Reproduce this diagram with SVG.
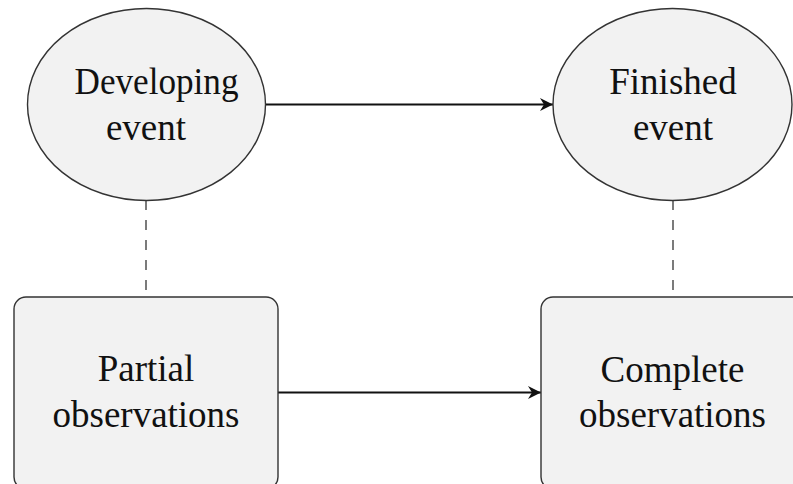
<svg xmlns="http://www.w3.org/2000/svg" width="793" height="484" viewBox="0 0 793 484">
<style>
.bg{fill:#ffffff}
.node{fill:#f2f2f2;stroke:#333333;stroke-width:1.4}
.lbl{font-family:"Liberation Serif","Times New Roman",serif;font-size:37px;fill:#111111;text-anchor:middle}
.edge{stroke:#111111;stroke-width:2;fill:none}
.dash{stroke:#444444;stroke-width:1.4;stroke-dasharray:10 10;fill:none}
</style>
<defs>
<marker id="arr" markerUnits="userSpaceOnUse" markerWidth="16" markerHeight="14" refX="14" refY="7" orient="auto">
<path d="M14,7 L1,0.5 L5,7 L1,13.5 Z" fill="#111111"/>
</marker>
</defs>
<rect class="bg" x="0" y="0" width="793" height="484"/>
<g id="connectors">
<line class="dash" x1="146" y1="200" x2="146" y2="296"/>
<line class="dash" x1="673" y1="200" x2="673" y2="296"/>
<line class="edge" x1="265" y1="104.5" x2="553" y2="104.5" marker-end="url(#arr)"/>
<line class="edge" x1="278" y1="392.5" x2="541" y2="392.5" marker-end="url(#arr)"/>
</g>
<g id="developing">
<ellipse class="node" cx="146.5" cy="104.5" rx="119" ry="96"/>
<text class="lbl" x="156.5" y="94" textLength="164" lengthAdjust="spacingAndGlyphs">Developing</text>
<text class="lbl" x="146" y="140">event</text>
</g>
<g id="finished">
<ellipse class="node" cx="672.5" cy="104.5" rx="119.5" ry="96"/>
<text class="lbl" x="673" y="94">Finished</text>
<text class="lbl" x="673" y="140">event</text>
</g>
<g id="partial">
<rect class="node" x="14" y="297" width="264" height="192" rx="12"/>
<text class="lbl" x="146" y="381">Partial</text>
<text class="lbl" x="146" y="427">observations</text>
</g>
<g id="complete">
<rect class="node" x="541" y="297" width="264" height="192" rx="12"/>
<text class="lbl" x="672.5" y="382">Complete</text>
<text class="lbl" x="672.5" y="427">observations</text>
</g>
</svg>
